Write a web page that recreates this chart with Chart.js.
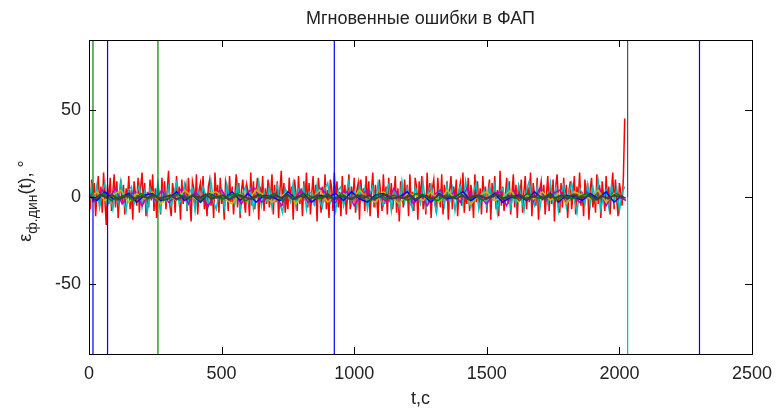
<!DOCTYPE html>
<html>
<head>
<meta charset="utf-8">
<script src="https://cdn.jsdelivr.net/npm/chart.js@4.4.0/dist/chart.umd.min.js"></script>
<style>
  html, body { margin: 0; padding: 0; background: #fff; }
  #wrap { width: 776px; height: 413px; position: relative; }
</style>
</head>
<body>
<div id="wrap"><canvas id="chart"></canvas></div>
<script>
// Axis ticks
const xTicks = [0, 500, 1000, 1500, 2000, 2500];
const yTicks = [-50, 0, 50];

// Noise series (degrees); sample step per series in seconds
const redStep = 5;
const redErr = [
  4, -7, 10, -3, 8, -11, 2, 12, -5, 6, -9, 14, -2, -16, 7,
  -4, 11, -8, 3, 13, -6, 9, -12, 1, 10, -3, 7, -10, 5, -1,
  12, -7, 4, -13, 9, 2, -5, 11, -9, 6, 14, -4, 8, -11, 3,
  -6, 10, -2, 13, -8, 5, -12, 7, 1, -10, 11, -3, 9, -7, 4,
  15, -5, -11, 8, 2, -9, 12, -1, 6, -13, 10, -4, 3, 7, -8,
  11, -2, -14, 9, 5, -6, 13, -10, 4, 8, -3, 12, -7, 1, -11,
  6, 10, -5, 3, -12, 14, -1, 7, -9, 11, -4, 2, -13, 9, 5,
  -8, 12, -3, 6, -10, 1, 13, -6, 8, -12, 4, 10, -2, -9, 7,
  3, -11, 14, -5, 9, -7, 2, 11, -13, 6, -1, 12, -8, 5, -4,
  10, -6, 1, 13, -10, 7, -3, 9, -12, 4, 15, -5, 8, -9, 2,
  -7, 11, -1, 6, -13, 10, 3, -8, 12, -4, 5, -11, 9, -2, 14,
  -6, 8, -10, 2, 12, -5, 7, -14, 11, 1, -9, 6, -3, 13, -7,
  4, -12, 10, 5, -8, 14, -1, 9, -6, 3, -11, 12, -4, 7, -10,
  1, 13, -7, 6, -3, 11, -9, 4, 8, -13, 10, -2, 5, -8, 12,
  -5, 9, -11, 3, 14, -6, 7, -1, -12, 10, 2, -8, 13, -4, 6,
  -10, 11, -3, 8, -7, 1, 12, -9, 5, -14, 9, 4, -6, 10, -2,
  7, -11, 13, -5, 3, -8, 11, 6, -13, 9, -1, 12, -7, 2, -10,
  14, -4, 8, -12, 5, 10, -3, -9, 11, 1, -6, 13, -10, 7, -2,
  9, -13, 4, 12, -7, 6, -1, 10, -11, 3, 8, -5, 14, -9, 2,
  -4, 11, -8, 7, 1, -12, 13, -3, 9, -6, 5, -10, 12, -1, 6,
  -9, 3, 10, -13, 8, -2, 12, -7, 4, -11, 15, -5, 6, -8, 1,
  11, -4, 9, -10, 2, 13, -6, 7, -12, 5, -1, 10, -9, 3, 12,
  -7, 6, -3, 14, -11, 8, 1, -5, 11, -13, 4, 9, -2, 7, -10,
  2, 12, -8, 5, -4, 10, -14, 6, 13, -1, -9, 8, -6, 11, -3,
  7, -12, 4, 9, -7, 1, 12, -10, 6, -2, 14, -5, 3, -11, 10,
  -1, 8, -13, 5, 11, -6, 2, -9, 13, -4, 7, -12, 9, 1, -8,
  12, -3, 6, -10, 4, 14, -7, 10, -2, -11, 8, 3, -5, 11, 45
];

const cyanStep = 10;
const cyanErr = [
  -4, 6, -2, 7, -6, 3, 8, -5, 1, -7, 5, -3, 9, -1, -8,
  4, 6, -4, 2, 7, -6, 3, -9, 5, 1, -3, 8, -7, 4, -2,
  6, -5, 2, 8, -4, -1, 7, -6, 3, 5, -8, 4, -2, 6, 1,
  -5, 9, -3, -7, 2, 5, -6, 7, -1, 3, -4, 8, -8, 2, 6,
  -3, 4, -7, 1, 9, -5, 3, -2, 6, -6, 2, 7, -4, -9, 5,
  1, -3, 8, -5, 4, -1, 6, -7, 3, 2, -4, 7, -2, -6, 5,
  8, -3, 1, -8, 4, 6, -5, 2, 9, -4, 3, -6, 7, -2, 5,
  -7, 2, 6, -4, 8, -1, -5, 3, 7, -8, 4, 1, -6, 9, -3,
  5, -2, -7, 6, 1, -4, 8, -6, 3, 7, -1, -9, 4, 2, -5,
  7, -3, 5, -8, 2, 6, -4, 9, -2, -6, 3, 8, -7, 1, 4,
  -5, 6, -1, 7, -9, 3, 5, -3, 8, -6, 2, -4, 7, 1, -8,
  4, 9, -2, -5, 6, -7, 3, 1, -4, 8, -3, 5, -8, 2, 7,
  -6, 3, 8, -1, -9, 5, 2, -4, 7, -5, 6, -2, 9, -7, 1,
  4, -6, 7, -3, 5, -8, 2, 6
];

const magentaStep = 25;
const magentaErr = [
  2, -3, 4, -1, 5, -4, 1, 3, -5, 2,
  -2, 4, -3, 0, 5, -4, 3, -1, -5, 2,
  4, -2, 1, -4, 3, 5, -3, 0, 2, -5,
  3, -1, 4, -3, -2, 5, 1, -4, 2, 3,
  -5, 1, 4, -2, 0, -3, 5, -1, 3, -4,
  2, -5, 1, 4, -2, 3, -3, 5, -1, 0,
  -4, 2, 3, -5, 4, -1, 1, -3, 5, -2,
  2, 4, -4, 1, -3, 3, -1, 5, -5, 2,
  0, -2
];

const yellowStep = 30;
const yellowErr = [
  -1, 3, -2, 1, 4, -3, 2, -1, 3, -4,
  1, -2, 4, 0, -3, 2, 3, -1, -4, 2,
  -2, 4, 1, -3, 0, 3, -4, 2, -1, 4,
  -3, 1, 2, -2, 4, -1, -3, 3, 0, -4,
  2, 1, -2, 3, -3, 4, -1, 2, -4, 1,
  3, -2, 0, 4, -3, 1, -1, 3, -2, 2,
  -4, 3, 1, -1, 4, -3, 2, 0
];

const blueStep = 30;
const blueErr = [
  1, -2, 3, -1, 0, 2, -3, 1, 2, -2,
  -1, 3, -2, 1, -3, 2, 0, -1, 3, -2,
  2, -3, 1, 0, -2, 3, -1, 2, -3, 1,
  0, 2, -2, 3, -1, -3, 1, 2, -1, 0,
  3, -2, 1, -3, 2, -1, 0, 3, -2, 1,
  -1, 2, -3, 0, 1, -2, 3, -1, 2, -3,
  1, 0, -2, 2, -1, 3, -3, 1
];

const greenStep = 28;
const greenErr = [
  1, -1, 2, -2, 0, 1, -2, 2, -1, 1,
  -2, 0, 2, -1, 1, -2, 2, 0, -1, 1,
  2, -2, -1, 1, 0, 2, -2, 1, -1, 2,
  0, -1, 1, -2, 2, -1, 0, 1, -2, 2,
  -1, 1, 0, -2, 2, 1, -1, -2, 1, 0,
  2, -1, 1, -2, 0, 2, -1, 1, -2, 2,
  0, -1, 2, -2, 1, -1, 0, 2, -2, 1,
  -1, 2, 0
];

const grayStep = 22;
const grayErr = [
  0.5, -1, 1.5, -0.5, 1, -1.5, 0, 1, -1, 0.5,
  -0.5, 1.5, -1, 0, 1, -1.5, 0.5, -1, 1, -0.5,
  1.5, -1, 0, 1, -1.5, 0.5, 1, -0.5, -1, 1.5,
  0, -1, 1, -0.5, 1.5, -1.5, 0.5, 0, -1, 1,
  -0.5, 1.5, -1, 0.5, 0, -1.5, 1, -0.5, 1, -1,
  0.5, 1.5, -1, 0, -0.5, 1, -1.5, 1, 0.5, -1,
  1.5, -0.5, 0, -1, 1, -1.5, 0.5, 1, -1, 0,
  1.5, -1, 0.5, -0.5, 1, -1.5, 0, 1, -1, 0.5,
  -0.5, 1, -1, 1.5, -0.5, 0, 1, -1.5, 0.5, -1,
  1, 0, -0.5
];

// Runaway channels: time of the jump and the values it spans (off scale)
const jumpTime = [15, 15, 70, 260, 925, 2031, 2031, 2302];
const jumpFrom = [0, 0, -1000, -1000, -1000, 0, 0, -1000];
const jumpTo   = [1000, -1000, 1000, 1000, 1000, 1000, -1000, 1000];
const jumpColor = ['#008000', '#0000ff', '#0000ff', '#008000', '#0000ff', '#505050', '#00bfbf', '#0000ff'];

function toPoints(values, step) {
  return values.map((v, i) => ({ x: i * step, y: v }));
}

const noiseSets = [
  { data: toPoints(grayErr, grayStep), color: '#404040', width: 2 },
  { data: toPoints(greenErr, greenStep), color: '#008000', width: 1.5 },
  { data: toPoints(blueErr, blueStep), color: '#0000ff', width: 1.5 },
  { data: toPoints(yellowErr, yellowStep), color: '#bfbf00', width: 1.5 },
  { data: toPoints(magentaErr, magentaStep), color: '#bf00bf', width: 1.5 },
  { data: toPoints(cyanErr, cyanStep), color: '#00bfbf', width: 1.5 },
  { data: toPoints(redErr, redStep), color: '#ff0000', width: 1.5 }
];

const datasets = [];
jumpTime.forEach((t, i) => {
  datasets.push({
    data: [{ x: t, y: jumpFrom[i] }, { x: t, y: jumpTo[i] }],
    borderColor: jumpColor[i],
    borderWidth: 1.2,
    pointRadius: 0
  });
});
noiseSets.forEach(s => {
  datasets.push({
    data: s.data,
    borderColor: s.color,
    borderWidth: s.width,
    pointRadius: 0
  });
});

const FONT = '"Liberation Sans", Arial, sans-serif';

// Box, inward ticks, title and axis labels in MATLAB style
const frame = {
  id: 'frame',
  afterDraw(chart) {
    const { ctx, chartArea: a, scales } = chart;
    ctx.save();
    ctx.strokeStyle = '#000';
    ctx.lineWidth = 1;
    ctx.strokeRect(a.left + 0.5, a.top + 0.5, a.right - a.left, a.bottom - a.top);
    ctx.beginPath();
    xTicks.forEach(v => {
      const px = Math.round(scales.x.getPixelForValue(v)) + 0.5;
      ctx.moveTo(px, a.bottom); ctx.lineTo(px, a.bottom - 7);
      ctx.moveTo(px, a.top); ctx.lineTo(px, a.top + 7);
    });
    yTicks.forEach(v => {
      const py = Math.round(scales.y.getPixelForValue(v)) + 0.5;
      ctx.moveTo(a.left, py); ctx.lineTo(a.left + 7, py);
      ctx.moveTo(a.right, py); ctx.lineTo(a.right - 7, py);
    });
    ctx.stroke();

    ctx.fillStyle = '#222';
    ctx.textAlign = 'center';
    ctx.textBaseline = 'alphabetic';
    ctx.font = '18px ' + FONT;
    ctx.fillText('Мгновенные ошибки в ФАП', (a.left + a.right) / 2, 24);
    ctx.fillText('t,c', (a.left + a.right) / 2, 404);

    // y label: ε with subscript ф.дин, then (t), °
    ctx.translate(31, (a.top + a.bottom) / 2 + 4);
    ctx.rotate(-Math.PI / 2);
    ctx.textAlign = 'left';
    const main = '18px ' + FONT, sub = '14px ' + FONT;
    ctx.font = main; const w1 = ctx.measureText('ε').width;
    ctx.font = sub; const w2 = ctx.measureText('ф.дин').width;
    ctx.font = main; const w3 = ctx.measureText('(t), °').width;
    let x0 = -(w1 + w2 + w3) / 2;
    ctx.font = main; ctx.fillText('ε', x0, 0);
    ctx.font = sub; ctx.fillText('ф.дин', x0 + w1, 6);
    ctx.font = main; ctx.fillText('(t), °', x0 + w1 + w2, 0);
    ctx.restore();
  }
};

new Chart(document.getElementById('chart'), {
  type: 'line',
  data: { datasets },
  options: {
    responsive: true,
    maintainAspectRatio: false,
    animation: false,
    devicePixelRatio: 1,
    layout: { padding: { top: 40, right: 24, bottom: 0, left: 0 } },
    plugins: { legend: { display: false }, tooltip: { enabled: false }, title: { display: false } },
    scales: {
      x: {
        type: 'linear',
        min: 0, max: 2500,
        afterBuildTicks: s => { s.ticks = xTicks.map(v => ({ value: v })); },
        afterFit: s => { s.height = 59; s.paddingLeft = 0; s.paddingRight = 0; },
        grid: { display: false, drawTicks: false },
        border: { display: false },
        ticks: { color: '#222', font: { family: FONT, size: 18 }, padding: 9, maxRotation: 0,
                 callback: v => String(v) }
      },
      y: {
        min: -90, max: 90,
        afterBuildTicks: s => { s.ticks = yTicks.map(v => ({ value: v })); },
        afterFit: s => { s.width = 89; s.paddingTop = 0; s.paddingBottom = 0; },
        grid: { display: false, drawTicks: false },
        border: { display: false },
        ticks: { color: '#222', font: { family: FONT, size: 18 }, padding: 8,
                 callback: v => String(v) }
      }
    }
  },
  plugins: [frame]
});
</script>
</body>
</html>
